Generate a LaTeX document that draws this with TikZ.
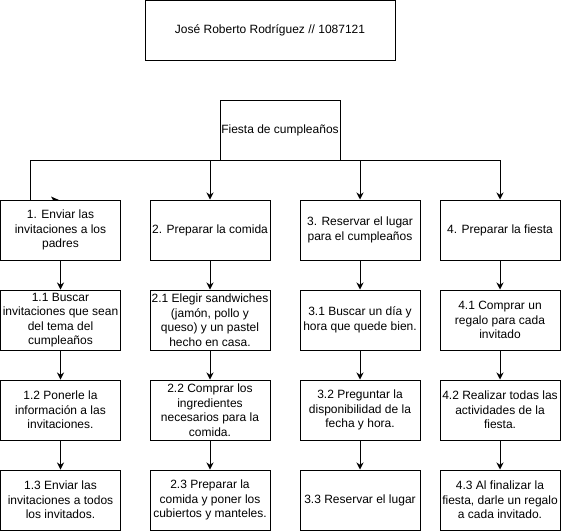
\documentclass[tikz,border=0pt]{standalone}
\usepackage{fontspec}
\setmainfont{Liberation Sans}
\usetikzlibrary{arrows.meta}
\begin{document}
\begin{tikzpicture}[x=1pt,y=-1pt,
  box/.style={draw, line width=1pt, minimum width=120pt, minimum height=60pt, inner sep=1pt, align=center,
    font=\fontsize{12}{14.5}\selectfont},
  arr/.style={line width=1pt, -{Stealth[length=7pt,width=7pt]}},
  ln/.style={line width=1pt}]
\useasboundingbox (0,0) rectangle (561,531);
\node[box, minimum width=250pt] (t) at (270,30) {José Roberto Rodríguez // 1087121};
\node[box] (f) at (280,130) {Fiesta de cumpleaños};
% level 1
\node[box] (b1) at (60.5,230) {1. Enviar las\\invitaciones a los\\padres};
\node[box] (b2) at (210,230) {2. Preparar la comida};
\node[box] (b3) at (360,230) {3. Reservar el lugar\\para el cumpleaños};
\node[box] (b4) at (500,230) {4. Preparar la fiesta};
% level 2
\node[box] (b11) at (60.5,320) {1.1 Buscar\\invitaciones que sean\\del tema del\\cumpleaños};
\node[box] (b21) at (210,320) {2.1 Elegir sandwiches\\(jamón, pollo y\\queso) y un pastel\\hecho en casa.};
\node[box] (b31) at (360,320) {3.1 Buscar un día y\\hora que quede bien.};
\node[box] (b41) at (500,320) {4.1 Comprar un\\regalo para cada\\invitado};
% level 3
\node[box] (b12) at (60.5,410) {1.2 Ponerle la\\información a las\\invitaciones.};
\node[box] (b22) at (210,410) {2.2 Comprar los\\ingredientes\\necesarios para la\\comida.};
\node[box] (b32) at (360,410) {3.2 Preguntar la\\disponibilidad de la\\fecha y hora.};
\node[box] (b42) at (500,410) {4.2 Realizar todas las\\actividades de la\\fiesta.};
% level 4
\node[box] (b13) at (60.5,500) {1.3 Enviar las\\invitaciones a todos\\los invitados.};
\node[box] (b23) at (210,500) {2.3 Preparar la\\comida y poner los\\cubiertos y manteles.};
\node[box] (b33) at (360,500) {3.3 Reservar el lugar};
\node[box] (b43) at (500,500) {4.3 Al finalizar la\\fiesta, darle un regalo\\a cada invitado.};
% top connectors
\coordinate (t1) at (30.5,200);
\draw[ln] (f.south) -| (t1);
\fill (51,196.5) -- (59,200) -- (53,200) -- cycle;
\draw[arr] (f.south) -| (b2.north);
\draw[arr] (f.south) -| (b3.north);
\draw[arr] (f.south) -| (b4.north);
% column connectors
\foreach \c in {1,2,3,4}{
  \draw[arr] (b\c.south) -- (b\c1.north);
  \draw[arr] (b\c1.south) -- (b\c2.north);
  \draw[arr] (b\c2.south) -- (b\c3.north);
}
\end{tikzpicture}
\end{document}
